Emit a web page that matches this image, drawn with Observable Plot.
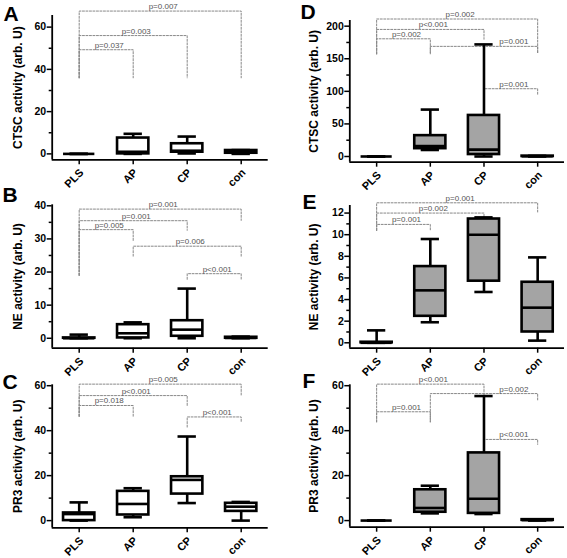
<!DOCTYPE html>
<html><head><meta charset="utf-8">
<script src="https://cdn.jsdelivr.net/npm/d3@7"></script>
<script src="https://cdn.jsdelivr.net/npm/@observablehq/plot@0.6"></script>
<style>
html,body{margin:0;padding:0;background:#fff;}
#fig{position:relative;width:567px;height:558px;overflow:hidden;font-family:"Liberation Sans",Arial,sans-serif;}
#fig svg{position:absolute;}
</style></head><body><div id="fig"></div>
<script>
const categories = ["PLS", "AP", "CP", "con"];

// five-number summaries per category: [min, q1, median, q3, max]
const statsA = [[0,0,0,0,0],[0,0,1,7.5,9.5],[0.2,0.8,1.5,4.8,8.2],[0,0.3,0.9,1.6,1.8]];
const statsB = [[0,0,0,0.1,1.1],[0,0.1,1.5,4.1,4.8],[0,0.6,2.6,5.3,15],[0,0,0.1,0.3,0.5]];
const statsC = [[0,0,2.9,3.4,8.1],[1.5,2.5,7.4,13,14.4],[7.8,11.8,18.1,19.5,37.4],[0,4.1,6.2,7.7,8.3]];
const statsD = [[0,0,0,0,0],[10,12,16,32,72],[0,3,10.5,63,172],[0,0,0.3,0.6,1]];
const statsE = [[0,0,0,0.05,1.15],[1.9,2.45,4.85,7.05,9.6],[4.7,5.7,10.0,11.45,11.6],[0.2,1.0,3.25,5.6,7.9]];
const statsF = [[0,0,0,0,0],[3.2,3.7,5.6,13.7,15.5],[2.9,3.2,9.7,30.1,55.4],[0,0.1,0.2,0.4,0.5]];

// brackets: [from, to, top, left leg end, right leg end, label, (label between a, b)]
const bracketsA = [[1,2,49.3,36,36,"p=0.037"],[1,3,56,36,36,"p=0.003"],[1,4,67.6,36,36,"p=0.007"]];
const bracketsB = [[1,2,32.8,19,29.5,"p=0.005"],[1,3,35.5,19,32.6,"p=0.001"],[1,4,39,19,35.6,"p=0.001"],[2,4,27.8,24.8,24.8,"p=0.006"],[3,4,19.5,17.8,17.8,"p<0.001"]];
const bracketsC = [[1,2,51.2,46.4,46.4,"p=0.018"],[1,3,55.6,46.4,51.2,"p<0.001"],[1,4,60.7,46.4,55.6,"p=0.005"],[3,4,46.1,41.6,43.9,"p<0.001"]];
const bracketsD = [[1,2,180.6,157.5,157.5,"p=0.002"],[1,3,195,157.5,180,"p<0.001"],[1,4,211,157.5,157.5,"p=0.002"],[2,4,169,157.5,157.5,"p=0.001",3,4],[3,4,104,95,95,"p=0.001"]];
const bracketsE = [[1,2,10.95,10.4,10.4,"p=0.001"],[1,3,12.0,10.4,11.6,"p=0.002"],[1,4,12.95,10.4,12.1,"p=0.001"]];
const bracketsF = [[1,2,48.4,43.9,43.9,"p=0.001"],[1,3,60.7,43.9,56,"p<0.001"],[2,4,56.5,43.9,53.4,"p=0.002",3,4],[3,4,36.1,33.9,33.9,"p<0.001"]];

const ticksA = [0,20,40,60], minorA = [10,30,50];
const ticksB = [0,10,20,30,40], minorB = [5,15,25,35];
const ticksC = [0,20,40,60], minorC = [10,30,50];
const ticksD = [0,50,100,150,200], minorD = [25,75,125,175];
const ticksE = [0,2,4,6,8,10,12], minorE = [1,3,5,7,9,11];
const ticksF = [0,20,40,60], minorF = [10,30,50];

const GRAY = "#a4a4a4";
const panels = [
  {letter:"A", label:"CTSC activity (arb. U)", stats:statsA, brackets:bracketsA, ticks:ticksA, minor:minorA, fill:"white", y:[-2.8,65.5],
   left:0, top:0, width:283, height:190, mt:15, mb:30.7, ml:51.7, mr:15.3, ldx:-48.7, ldy:5, labdx:-34},
  {letter:"D", label:"CTSC activity (arb. U)", stats:statsD, brackets:bracketsD, ticks:ticksD, minor:minorD, fill:GRAY, y:[-8.75,208.7],
   left:283, top:0, width:284, height:190, mt:20, mb:28.3, ml:66.3, mr:3, ldx:-49.3, ldy:-2, labdx:-35.5},
  {letter:"B", label:"NE activity (arb. U)", stats:statsB, brackets:bracketsB, ticks:ticksB, minor:minorB, fill:"white", y:[-3.0,40.3],
   left:0, top:185, width:283, height:190, mt:19.3, mb:27.3, ml:51.7, mr:15.3, ldx:-49.7, ldy:-3.3, labdx:-34},
  {letter:"E", label:"NE activity (arb. U)", stats:statsE, brackets:bracketsE, ticks:ticksE, minor:minorE, fill:GRAY, y:[-0.5,12.7],
   left:283, top:185, width:284, height:190, mt:20, mb:27.3, ml:66.3, mr:3, ldx:-47.3, ldy:3, labdx:-35.5},
  {letter:"C", label:"PR3 activity (arb. U)", stats:statsC, brackets:bracketsC, ticks:ticksC, minor:minorC, fill:"white", y:[-3.2,60.4],
   left:0, top:370, width:283, height:188, mt:14.3, mb:30.7, ml:51.7, mr:15.3, ldx:-49.7, ldy:3.7, labdx:-34},
  {letter:"F", label:"PR3 activity (arb. U)", stats:statsF, brackets:bracketsF, ticks:ticksF, minor:minorF, fill:GRAY, y:[-2.95,60.4],
   left:283, top:370, width:284, height:188, mt:14.3, mb:31.3, ml:66.3, mr:3, ldx:-47.3, ldy:2.7, labdx:-35.5}
];

const HW = 0.29, CAP = 0.17, LW = 2.6;
const fig = document.getElementById("fig");

for (const p of panels) {
  const boxes = p.stats.map((s,i) => ({x:i+1, min:s[0], q1:s[1], med:s[2], q3:s[3], max:s[4]}));
  const pts = p.brackets.flatMap((b,k) => [
    {k, x:b[0], y:b[3]}, {k, x:b[0], y:b[2]}, {k, x:b[1], y:b[2]}, {k, x:b[1], y:b[4]}
  ]);
  const labs = p.brackets.map(b => ({x:((b[6] ?? b[0]) + (b[7] ?? b[1]))/2, y:b[2], text:b[5]}));
  const cats = categories.map((c,i) => ({name:c, x:i+1, y:p.y[0]}));
  const svg = Plot.plot({
    width:p.width, height:p.height,
    marginTop:p.mt, marginBottom:p.mb, marginLeft:p.ml, marginRight:p.mr,
    x:{domain:[0.5,4.5], axis:null},
    y:{domain:p.y, axis:null},
    style:{background:"transparent", overflow:"visible", fontFamily:"'Liberation Sans', Arial, sans-serif", color:"black"},
    marks:[
      Plot.line(pts, {x:"x", y:"y", z:"k", stroke:"#888", strokeWidth:1, strokeDasharray:"2,1.5"}),
      Plot.text(labs, {x:"x", y:"y", text:"text", dx:3, dy:-2, lineAnchor:"bottom", fontSize:8, fill:"#555"}),
      Plot.ruleX(boxes, {x:"x", y1:"min", y2:"max", strokeWidth:LW}),
      Plot.ruleY(boxes, {y:"min", x1:d=>d.x-CAP, x2:d=>d.x+CAP, strokeWidth:LW}),
      Plot.ruleY(boxes, {y:"max", x1:d=>d.x-CAP, x2:d=>d.x+CAP, strokeWidth:LW}),
      Plot.rect(boxes, {x1:d=>d.x-HW, x2:d=>d.x+HW, y1:"q1", y2:"q3", fill:p.fill, stroke:"black", strokeWidth:LW}),
      Plot.ruleY(boxes, {y:"med", x1:d=>d.x-HW, x2:d=>d.x+HW, strokeWidth:LW}),
      Plot.axisY({ticks:p.ticks, tickSize:5, tickPadding:1, fontSize:10.5, fontWeight:"bold", strokeWidth:1.5, label:null}),
      Plot.axisY({ticks:p.minor, tickSize:3, tickFormat:()=>"", strokeWidth:1.5, label:null}),
      Plot.axisX({ticks:[1,2,3,4], tickSize:5, tickFormat:()=>"", strokeWidth:1.5, label:null}),
      Plot.ruleX([0.5], {y1:p.y[0], y2:p.y[1], strokeWidth:1.8}),
      Plot.ruleY([p.y[0]], {x1:0.5, x2:4.5, strokeWidth:1.8}),
      Plot.text(cats, {x:"x", y:"y", text:"name", rotate:()=>-45, textAnchor:"end", lineAnchor:"bottom", dx:5, dy:13.5, fontSize:11, fontWeight:"bold", className:"catlab"}),
      Plot.text([p.label], {frameAnchor:"left", rotate:-90, textAnchor:"middle", lineAnchor:"middle", dx:p.labdx, fontSize:12, fontWeight:"bold"}),
      Plot.text([p.letter], {frameAnchor:"top-left", textAnchor:"start", lineAnchor:"bottom", dx:p.ldx, dy:p.ldy, fontSize:21, fontWeight:"bold"})
    ]
  });
  svg.style.left = p.left + "px";
  svg.style.top = p.top + "px";
  // make sure the rotation of the category labels survives
  d3.select(svg).selectAll(".catlab text").each(function() {
    const t = this.getAttribute("transform") || "";
    if (!/rotate/.test(t)) this.setAttribute("transform", t + " rotate(-45)");
  });
  fig.appendChild(svg);
}
</script></body></html>
